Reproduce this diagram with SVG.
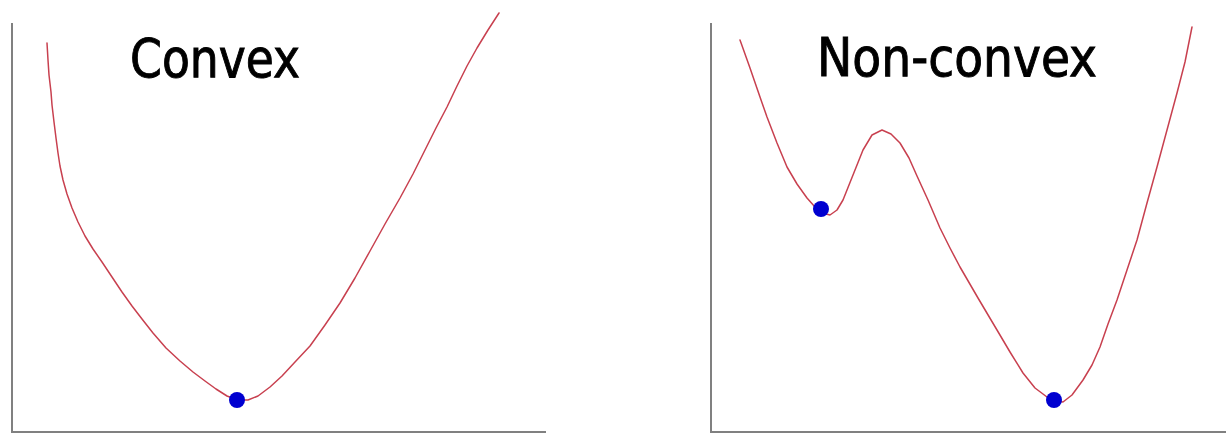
<svg xmlns="http://www.w3.org/2000/svg" width="1226" height="433" viewBox="0 0 1226 433">
<style>
.axis{stroke:#808080;stroke-width:2;fill:none}
.curve{stroke:#c8404f;stroke-width:1.5;fill:none;stroke-linejoin:round;stroke-linecap:round}
.dot{fill:#0000d0}
.title{font-family:"DejaVu Sans Condensed","DejaVu Sans",sans-serif;font-size:54px;fill:#000;stroke:#000;stroke-width:0.9}
</style>
<rect width="1226" height="433" fill="#fff"/>
<g id="convex-plot">
<path class="axis" d="M12,23 V432 H546"/>
<polyline class="curve" points="47,43 48,60 49,75 51,92 52,105 54,122 56,138 58,153 60,166 63,180 67,194 72,208 78,222 85,236 93,249 102,262 112,277 122,292 132,306 142,319 153,333 166,348 180,361 193,372 205,381 216,389 227,396 238,400 248,400 258,396 270,387 282,376 295,362 310,346 325,325 340,303 355,278 370,251 385,224 400,198 413,174 425,150 436,128 447,107 457,86 467,66 477,48 488,30 499,13"/>
<circle class="dot" cx="237" cy="400" r="8"/>
<text class="title" x="130" y="77" textLength="170" lengthAdjust="spacingAndGlyphs">Convex</text>
</g>
<g id="nonconvex-plot">
<path class="axis" d="M711,23 V432 H1226"/>
<polyline class="curve" points="740,40 750,68 760,97 767,117 777,143 787,167 797,184 807,198 815,207 822,213 830,215 837,210 843,200 853,175 863,150 872,135 882,130 891,134 900,143 909,158 917,176 928,200 940,228 950,248 960,267 978,298 997,330 1010,352 1023,373 1035,388 1047,397 1056,401 1063,402 1072,395 1083,380 1092,365 1100,347 1108,324 1117,300 1127,270 1137,240 1147,203 1157,167 1167,130 1177,93 1185,62 1192,27"/>
<circle class="dot" cx="821" cy="209" r="8"/>
<circle class="dot" cx="1054" cy="400" r="8"/>
<text class="title" x="817" y="76" textLength="280" lengthAdjust="spacingAndGlyphs">Non-convex</text>
</g>
<g id="connectors"/>
</svg>
